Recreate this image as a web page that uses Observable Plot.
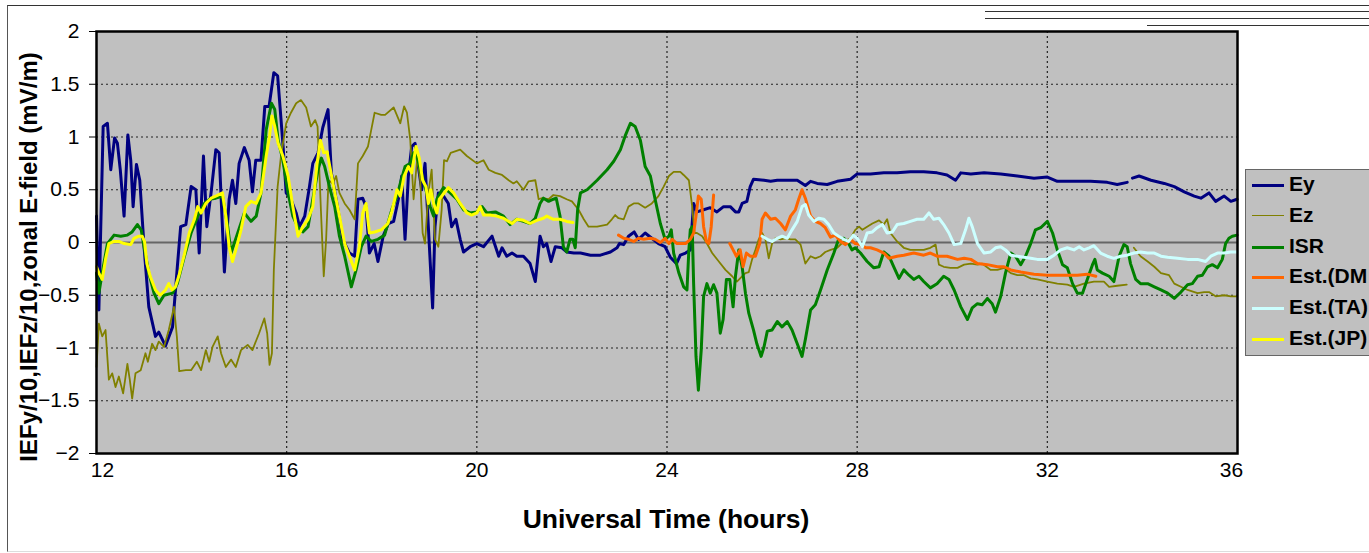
<!DOCTYPE html>
<html><head><meta charset="utf-8">
<script src="https://cdn.jsdelivr.net/npm/d3@7"></script>
<script src="https://cdn.jsdelivr.net/npm/@observablehq/plot@0.6"></script>
<style>
html,body{margin:0;padding:0;background:#fff}
body{width:1369px;height:553px;overflow:hidden;position:relative;font-family:"Liberation Sans",Arial,sans-serif}
#frame{position:absolute;left:7px;top:5px;width:1400px;height:545px;border-left:1px solid #555;border-top:1.5px solid #333;border-bottom:1px solid #ddd}
.art{position:absolute;height:0;border-top:1.5px solid #333;right:0}
#chart{position:absolute;left:0;top:0}
#chart svg text{font-size:21px !important;font-family:"Liberation Sans",Arial,sans-serif !important;fill:#000}
#ylab{position:absolute;left:29px;top:257px;transform:translate(-50%,-50%) rotate(-90deg);white-space:nowrap;font-weight:bold;font-size:24px;color:#000}
#xlab{position:absolute;left:666px;top:519px;transform:translate(-50%,-50%);white-space:nowrap;font-weight:bold;font-size:26.5px;color:#000}
#legend{position:absolute;left:1245px;top:169px;width:160px;height:187px;background:#c0c0c0;border:1.5px solid #666;box-sizing:border-box}
.item{position:absolute;left:0;height:30px;width:160px}
.sw{position:absolute;left:6px;width:32px;top:14px}
.lt{position:absolute;left:43px;top:2px;font-weight:bold;font-size:21px;white-space:nowrap;color:#000}
</style></head>
<body>
<div id="frame"></div>
<div class="art" style="left:985px;top:11px"></div>
<div class="art" style="left:985px;top:18px"></div>
<div class="art" style="left:1147px;top:25px"></div>
<div id="chart"></div>
<div id="ylab">IEFy/10,IEFz/10,zonal E-field (mV/m)</div>
<div id="xlab">Universal Time (hours)</div>
<div id="legend"></div>
<script>
// Tick values
const xTicks = [12, 16, 20, 24, 28, 32, 36];
const yTicks = [-2, -1.5, -1, -0.5, 0, 0.5, 1, 1.5, 2];

// Series: [hour, value]
const ey = [[12.0,0.25],[12.05,-0.64],[12.08,-0.04],[12.14,1.10],[12.23,1.13],[12.3,0.69],[12.38,0.99],[12.44,0.94],[12.5,0.69],[12.58,0.25],[12.66,1.02],[12.72,0.78],[12.77,0.34],[12.84,0.74],[12.91,0.59],[13.0,-0.04],[13.1,-0.61],[13.24,-0.89],[13.31,-0.85],[13.45,-0.98],[13.6,-0.8],[13.7,-0.23],[13.77,0.15],[13.88,0.17],[13.99,0.53],[14.09,0.5],[14.16,-0.1],[14.25,0.82],[14.32,0.15],[14.41,0.47],[14.51,0.88],[14.58,0.85],[14.69,-0.28],[14.79,0.41],[14.86,0.59],[14.93,0.37],[15.0,0.75],[15.11,0.9],[15.21,0.78],[15.28,0.48],[15.35,0.78],[15.46,0.78],[15.54,1.29],[15.63,1.29],[15.73,1.61],[15.81,1.58],[15.92,0.94],[15.99,0.47],[16.09,0.41],[16.2,0.28],[16.27,0.15],[16.38,0.25],[16.48,0.53],[16.55,0.75],[16.66,0.85],[16.76,1.09],[16.87,1.26],[16.94,0.66],[17.08,0.31],[17.18,0.03],[17.32,-0.1],[17.43,-0.13],[17.5,0.41],[17.6,0.42],[17.67,0.34],[17.74,-0.1],[17.84,-0.01],[17.92,-0.18],[18.03,0.06],[18.14,0.18],[18.25,0.2],[18.35,0.41],[18.42,0.63],[18.49,0.03],[18.56,0.63],[18.63,0.91],[18.7,0.94],[18.77,0.72],[18.84,0.5],[18.91,0.75],[18.98,0.15],[19.07,-0.62],[19.12,0.15],[19.19,0.47],[19.3,0.44],[19.4,0.37],[19.47,0.15],[19.56,0.22],[19.65,0.03],[19.72,-0.09],[19.86,-0.04],[20.0,-0.01],[20.14,-0.04],[20.32,0.06],[20.46,-0.13],[20.53,-0.05],[20.63,-0.13],[20.74,-0.1],[20.84,-0.13],[20.98,-0.13],[21.12,-0.2],[21.23,-0.37],[21.33,0.06],[21.4,-0.04],[21.47,-0.01],[21.56,-0.18],[21.65,-0.04],[21.79,-0.05],[21.89,-0.09],[22.04,-0.1],[22.18,-0.1],[22.39,-0.12],[22.6,-0.12],[22.81,-0.09],[22.95,-0.05],[23.0,-0.01],[23.09,-0.02],[23.19,0.06],[23.31,0.1],[23.4,0.03],[23.54,0.09],[23.68,0.04],[23.82,-0.01],[23.96,-0.04],[24.07,-0.14],[24.2,-0.2],[24.28,-0.12],[24.39,-0.1],[24.49,-0.07],[24.56,0.37],[24.63,0.29],[24.77,0.31],[24.91,0.33],[25.05,0.29],[25.19,0.34],[25.33,0.34],[25.44,0.29],[25.51,0.29],[25.58,0.37],[25.68,0.39],[25.75,0.53],[25.82,0.6],[26.04,0.59],[26.18,0.58],[26.32,0.59],[26.53,0.59],[26.74,0.59],[26.91,0.54],[27.02,0.58],[27.16,0.56],[27.37,0.55],[27.58,0.58],[27.86,0.6],[28.0,0.65],[28.28,0.65],[28.56,0.66],[28.84,0.66],[29.12,0.67],[29.4,0.67],[29.68,0.66],[29.89,0.64],[30.07,0.59],[30.18,0.66],[30.39,0.65],[30.67,0.66],[31.02,0.65],[31.37,0.63],[31.72,0.61],[32.0,0.62],[32.21,0.58],[32.56,0.58],[32.91,0.58],[33.26,0.57],[33.47,0.55],[33.68,0.57],[33.73,null],[33.79,0.61],[33.93,0.63],[34.18,0.59],[34.46,0.56],[34.67,0.53],[34.88,0.48],[35.09,0.44],[35.23,0.42],[35.4,0.47],[35.54,0.39],[35.72,0.44],[35.86,0.39],[35.99,0.41]];

const ez = [[12.0,-1.18],[12.05,-0.77],[12.12,-0.89],[12.19,-0.83],[12.26,-1.3],[12.33,-1.24],[12.4,-1.37],[12.47,-1.27],[12.56,-1.43],[12.65,-1.15],[12.7,-1.3],[12.75,-1.48],[12.82,-1.24],[12.93,-1.21],[13.03,-1.05],[13.08,-1.13],[13.17,-0.96],[13.24,-1.02],[13.31,-0.94],[13.42,-0.99],[13.52,-0.83],[13.63,-0.61],[13.69,-0.89],[13.74,-1.22],[13.88,-1.21],[13.99,-1.21],[14.11,-1.13],[14.2,-1.21],[14.3,-1.02],[14.37,-1.13],[14.44,-0.99],[14.55,-0.89],[14.62,-1.05],[14.72,-1.18],[14.83,-1.11],[14.93,-1.18],[15.04,-1.02],[15.18,-0.97],[15.28,-1.02],[15.42,-0.86],[15.53,-0.72],[15.59,-0.86],[15.64,-1.16],[15.69,-1.05],[15.73,-0.26],[15.81,0.53],[15.88,0.82],[15.99,1.13],[16.09,1.23],[16.2,1.32],[16.3,1.35],[16.41,1.28],[16.51,1.1],[16.6,1.16],[16.65,1.1],[16.72,0.31],[16.78,-0.32],[16.83,0.03],[16.88,0.59],[16.97,0.56],[17.04,0.63],[17.11,0.47],[17.22,0.37],[17.32,0.31],[17.43,0.22],[17.5,0.75],[17.6,0.82],[17.71,0.91],[17.78,1.07],[17.85,1.23],[17.99,1.21],[18.07,1.21],[18.25,1.28],[18.39,1.13],[18.47,1.29],[18.53,1.23],[18.6,0.97],[18.67,0.41],[18.75,0.82],[18.81,0.59],[18.86,0.09],[18.91,-0.01],[18.98,0.47],[19.05,0.69],[19.12,0.03],[19.19,-0.04],[19.26,0.31],[19.31,0.78],[19.37,0.77],[19.45,0.85],[19.65,0.88],[19.79,0.82],[20.0,0.75],[20.14,0.78],[20.25,0.69],[20.39,0.66],[20.53,0.64],[20.67,0.59],[20.77,0.56],[20.84,0.58],[20.98,0.5],[21.09,0.58],[21.23,0.59],[21.3,0.41],[21.37,0.42],[21.51,0.41],[21.61,0.45],[21.75,0.44],[21.89,0.41],[22.0,0.39],[22.14,0.31],[22.25,0.22],[22.35,0.15],[22.53,0.15],[22.74,0.17],[22.84,0.22],[22.91,0.26],[22.98,0.23],[23.09,0.22],[23.19,0.34],[23.3,0.37],[23.4,0.37],[23.54,0.33],[23.68,0.37],[23.82,0.44],[23.93,0.53],[24.04,0.63],[24.14,0.67],[24.28,0.67],[24.35,0.64],[24.46,0.59],[24.53,0.34],[24.58,0.09],[24.63,0.09],[24.74,0.06],[24.84,-0.01],[24.95,-0.1],[25.09,-0.18],[25.23,-0.26],[25.37,-0.32],[25.47,-0.37],[25.58,-0.32],[25.65,-0.29],[25.72,-0.28],[25.79,-0.16],[25.86,-0.07],[25.93,0.03],[26.0,0.09],[26.07,0.03],[26.14,-0.15],[26.21,-0.01],[26.28,0.04],[26.39,0.03],[26.49,0.04],[26.6,0.03],[26.7,0.03],[26.81,-0.02],[26.91,-0.2],[27.02,-0.13],[27.12,-0.15],[27.23,-0.13],[27.33,-0.09],[27.44,-0.07],[27.58,-0.05],[27.72,0.01],[27.86,0.04],[27.96,0.12],[28.04,0.15],[28.11,0.12],[28.21,0.15],[28.32,0.18],[28.46,0.21],[28.56,0.17],[28.63,0.22],[28.7,0.09],[28.84,0.01],[28.98,-0.05],[29.12,-0.07],[29.26,-0.07],[29.4,-0.07],[29.54,-0.05],[29.65,-0.02],[29.72,-0.21],[29.82,-0.23],[29.96,-0.24],[30.11,-0.24],[30.25,-0.21],[30.39,-0.2],[30.53,-0.21],[30.63,-0.2],[30.81,-0.26],[30.95,-0.26],[31.09,-0.24],[31.23,-0.29],[31.37,-0.31],[31.51,-0.31],[31.65,-0.34],[31.79,-0.35],[32.0,-0.37],[32.21,-0.39],[32.42,-0.4],[32.56,-0.42],[32.77,-0.39],[32.98,-0.37],[33.19,-0.37],[33.3,-0.42],[33.47,-0.41],[33.67,-0.4],[33.75,null],[33.82,-0.05],[33.96,-0.13],[34.11,-0.18],[34.25,-0.23],[34.39,-0.29],[34.56,-0.31],[34.67,-0.39],[34.81,-0.42],[34.95,-0.45],[35.16,-0.48],[35.3,-0.47],[35.4,-0.47],[35.54,-0.51],[35.72,-0.5],[35.86,-0.51],[35.99,-0.51]];

const isr = [[12.0,-0.29],[12.05,-0.48],[12.12,-0.29],[12.23,-0.01],[12.37,0.07],[12.51,0.06],[12.65,0.07],[12.75,0.1],[12.86,0.17],[12.94,0.12],[13.0,-0.04],[13.1,-0.29],[13.21,-0.48],[13.31,-0.58],[13.42,-0.5],[13.6,-0.48],[13.7,-0.39],[13.85,-0.13],[13.99,0.09],[14.13,0.25],[14.27,0.37],[14.38,0.41],[14.51,0.42],[14.65,0.44],[14.76,0.15],[14.83,-0.1],[14.97,0.09],[15.11,0.28],[15.25,0.2],[15.36,0.25],[15.46,0.47],[15.57,1.07],[15.68,1.32],[15.75,1.26],[15.82,0.97],[15.92,0.78],[16.03,0.47],[16.13,0.25],[16.24,0.14],[16.34,0.1],[16.45,0.15],[16.55,0.41],[16.66,0.69],[16.73,0.8],[16.8,0.72],[16.9,0.53],[17.01,0.34],[17.11,0.06],[17.22,-0.13],[17.36,-0.42],[17.46,-0.26],[17.57,-0.04],[17.67,0.06],[17.78,0.01],[17.92,0.03],[18.06,0.07],[18.11,0.15],[18.21,0.31],[18.32,0.44],[18.39,0.56],[18.49,0.72],[18.6,0.75],[18.67,0.85],[18.74,0.82],[18.81,0.69],[18.91,0.53],[19.02,0.34],[19.09,0.25],[19.16,0.41],[19.23,0.47],[19.3,0.52],[19.44,0.47],[19.58,0.41],[19.72,0.31],[19.86,0.28],[20.0,0.29],[20.11,0.34],[20.21,0.28],[20.39,0.29],[20.56,0.25],[20.7,0.17],[20.84,0.22],[20.98,0.2],[21.12,0.18],[21.23,0.23],[21.33,0.37],[21.4,0.42],[21.51,0.39],[21.61,0.41],[21.67,0.42],[21.75,0.25],[21.82,-0.04],[21.89,-0.09],[21.96,0.03],[22.02,0.03],[22.07,-0.05],[22.12,0.31],[22.18,0.47],[22.32,0.5],[22.53,0.59],[22.74,0.69],[22.88,0.77],[23.02,0.88],[23.12,1.01],[23.23,1.13],[23.33,1.1],[23.44,0.97],[23.54,0.72],[23.65,0.63],[23.75,0.41],[23.86,0.18],[23.96,0.03],[24.04,0.06],[24.09,0.12],[24.14,-0.1],[24.25,-0.29],[24.35,-0.42],[24.42,-0.45],[24.46,-0.07],[24.49,0.12],[24.53,0.15],[24.56,-0.39],[24.61,-1.08],[24.66,-1.4],[24.72,-1.02],[24.77,-0.51],[24.84,-0.39],[24.91,-0.48],[24.98,-0.4],[25.05,-0.48],[25.12,-0.86],[25.18,-0.73],[25.25,-0.35],[25.32,-0.35],[25.39,-0.61],[25.44,-0.32],[25.51,-0.07],[25.58,-0.23],[25.65,-0.48],[25.72,-0.67],[25.82,-0.83],[25.89,-0.96],[25.98,-1.08],[26.04,-0.99],[26.11,-0.84],[26.21,-0.83],[26.32,-0.75],[26.42,-0.8],[26.53,-0.75],[26.63,-0.83],[26.74,-0.96],[26.84,-1.08],[26.91,-0.92],[27.02,-0.64],[27.12,-0.59],[27.23,-0.45],[27.37,-0.26],[27.51,-0.1],[27.61,0.03],[27.72,0.04],[27.82,-0.01],[27.89,-0.07],[27.96,-0.05],[28.07,-0.1],[28.21,-0.18],[28.35,-0.24],[28.46,-0.23],[28.56,-0.09],[28.67,-0.13],[28.77,-0.23],[28.88,-0.34],[28.98,-0.26],[29.09,-0.31],[29.19,-0.35],[29.3,-0.32],[29.4,-0.37],[29.54,-0.43],[29.68,-0.39],[29.82,-0.32],[29.93,-0.35],[30.04,-0.45],[30.18,-0.61],[30.32,-0.73],[30.42,-0.62],[30.53,-0.58],[30.63,-0.59],[30.74,-0.53],[30.84,-0.58],[30.91,-0.66],[31.02,-0.51],[31.12,-0.29],[31.23,-0.1],[31.33,-0.13],[31.44,-0.21],[31.54,-0.13],[31.65,-0.01],[31.75,0.12],[31.86,0.14],[32.0,0.2],[32.11,0.09],[32.21,-0.07],[32.32,-0.21],[32.42,-0.24],[32.53,-0.39],[32.63,-0.48],[32.74,-0.48],[32.84,-0.35],[32.95,-0.21],[33.0,-0.16],[33.05,-0.26],[33.16,-0.29],[33.3,-0.32],[33.4,-0.37],[33.51,-0.13],[33.61,-0.02],[33.68,-0.04],[33.75,-0.2],[33.86,-0.35],[33.96,-0.39],[34.11,-0.39],[34.25,-0.42],[34.39,-0.45],[34.53,-0.48],[34.67,-0.53],[34.81,-0.47],[34.95,-0.4],[35.05,-0.39],[35.16,-0.32],[35.26,-0.31],[35.37,-0.23],[35.47,-0.21],[35.58,-0.24],[35.68,-0.16],[35.75,-0.01],[35.82,0.04],[35.89,0.06],[35.99,0.07]];

const estDM = [[22.98,0.07],[23.09,0.04],[23.19,0.03],[23.3,0.01],[23.4,0.04],[23.51,0.03],[23.65,0.04],[23.75,0.03],[23.86,0.0],[23.96,0.04],[24.04,-0.01],[24.11,0.03],[24.21,-0.01],[24.28,-0.01],[24.39,-0.01],[24.49,0.03],[24.56,0.09],[24.61,0.25],[24.66,0.44],[24.72,0.41],[24.77,0.15],[24.83,0.01],[24.88,-0.01],[24.93,0.15],[24.98,0.45],[25.1,null],[25.32,-0.01],[25.39,-0.07],[25.46,-0.13],[25.54,-0.07],[25.6,-0.23],[25.67,-0.1],[25.75,-0.13],[25.86,-0.13],[25.95,-0.01],[26.0,0.22],[26.07,0.28],[26.18,0.22],[26.28,0.23],[26.39,0.18],[26.49,0.12],[26.6,0.25],[26.7,0.31],[26.77,0.41],[26.84,0.5],[26.91,0.42],[27.02,0.25],[27.12,0.2],[27.23,0.18],[27.33,0.14],[27.44,0.05],[27.54,0.07],[27.65,0.01],[27.75,-0.02],[27.86,0.03],[27.96,-0.01],[28.07,-0.02],[28.18,-0.05],[28.28,-0.05],[28.42,-0.07],[28.56,-0.1],[28.67,-0.15],[28.84,-0.13],[28.98,-0.12],[29.19,-0.1],[29.4,-0.12],[29.54,-0.1],[29.68,-0.13],[29.89,-0.13],[30.11,-0.16],[30.25,-0.15],[30.39,-0.16],[30.53,-0.2],[30.74,-0.21],[30.95,-0.23],[31.09,-0.23],[31.23,-0.26],[31.44,-0.28],[31.72,-0.3],[32.0,-0.31],[32.28,-0.31],[32.63,-0.31],[32.84,-0.3],[33.02,-0.32]];

const estTA = [[26.0,0.06],[26.11,0.03],[26.21,0.01],[26.32,0.04],[26.42,0.06],[26.53,0.04],[26.63,0.12],[26.74,0.2],[26.84,0.34],[26.91,0.36],[26.98,0.26],[27.09,0.2],[27.19,0.23],[27.3,0.22],[27.4,0.17],[27.51,0.09],[27.61,0.06],[27.72,0.03],[27.82,0.01],[27.92,0.07],[28.0,0.04],[28.11,-0.04],[28.21,0.09],[28.32,0.1],[28.42,0.14],[28.53,0.17],[28.63,0.09],[28.74,0.1],[28.84,0.17],[28.98,0.18],[29.12,0.2],[29.26,0.22],[29.4,0.22],[29.51,0.28],[29.61,0.22],[29.72,0.23],[29.82,0.17],[29.93,0.09],[30.04,-0.02],[30.18,-0.01],[30.28,0.12],[30.35,0.23],[30.42,0.15],[30.53,-0.01],[30.67,-0.1],[30.81,-0.09],[30.91,-0.05],[31.02,-0.04],[31.12,-0.07],[31.23,-0.12],[31.37,-0.13],[31.51,-0.14],[31.65,-0.15],[31.79,-0.16],[32.0,-0.16],[32.14,-0.12],[32.28,-0.07],[32.42,-0.05],[32.56,-0.07],[32.67,-0.04],[32.77,-0.07],[32.88,-0.05],[32.98,-0.03],[33.12,-0.1],[33.26,-0.13],[33.4,-0.15],[33.54,-0.13],[33.68,-0.12],[33.82,-0.1],[33.96,-0.09],[34.11,-0.1],[34.25,-0.1],[34.39,-0.13],[34.53,-0.14],[34.74,-0.15],[34.95,-0.16],[35.16,-0.16],[35.33,-0.18],[35.44,-0.13],[35.58,-0.1],[35.72,-0.1],[35.86,-0.09],[35.99,-0.09]];

const estJP = [[12.0,-0.23],[12.05,-0.29],[12.12,-0.35],[12.19,-0.16],[12.26,-0.01],[12.37,0.01],[12.47,0.01],[12.58,-0.01],[12.72,-0.02],[12.79,0.04],[12.89,0.06],[12.96,0.06],[13.01,0.01],[13.06,-0.2],[13.13,-0.32],[13.24,-0.45],[13.34,-0.5],[13.45,-0.45],[13.52,-0.39],[13.59,-0.45],[13.66,-0.42],[13.73,-0.32],[13.84,-0.13],[13.95,0.09],[14.06,0.22],[14.13,0.34],[14.2,0.28],[14.3,0.37],[14.41,0.42],[14.51,0.44],[14.65,0.47],[14.72,0.25],[14.79,-0.04],[14.86,-0.18],[14.93,-0.07],[15.04,0.12],[15.14,0.34],[15.25,0.39],[15.36,0.37],[15.46,0.47],[15.57,0.82],[15.64,1.01],[15.69,1.2],[15.75,1.1],[15.82,0.94],[15.92,0.82],[16.03,0.63],[16.13,0.34],[16.24,0.06],[16.34,0.15],[16.45,0.22],[16.55,0.34],[16.64,0.75],[16.71,0.97],[16.78,0.85],[16.85,0.86],[16.92,0.69],[17.0,0.5],[17.11,0.25],[17.22,-0.01],[17.32,-0.13],[17.43,-0.26],[17.53,-0.04],[17.6,0.28],[17.67,0.37],[17.74,0.09],[17.85,0.1],[17.99,0.12],[18.13,0.18],[18.21,0.29],[18.32,0.5],[18.39,0.44],[18.47,0.63],[18.56,0.72],[18.63,0.66],[18.72,0.91],[18.79,0.8],[18.86,0.59],[18.93,0.53],[18.98,0.37],[19.03,0.5],[19.09,0.37],[19.16,0.28],[19.21,0.41],[19.28,0.45],[19.4,0.52],[19.51,0.47],[19.65,0.37],[19.79,0.28],[19.89,0.26],[20.0,0.28],[20.07,0.34],[20.14,0.26],[20.28,0.26],[20.42,0.25],[20.56,0.23],[20.74,0.18],[20.84,0.22],[20.98,0.21],[21.12,0.18],[21.26,0.21],[21.4,0.23],[21.47,0.25],[21.61,0.22],[21.75,0.22],[21.89,0.2],[22.02,0.19]];

const seriesNames = ["Ey", "Ez", "ISR", "Est.(DM", "Est.(TA)", "Est.(JP)"];
const seriesColors = ["#000080", "#808000", "#008000", "#FF6600", "#CCFFFF", "#FFFF00"];
const seriesWidths = [3, 1.8, 3, 3, 3, 3];
const seriesData = [ey, ez, isr, estDM, estTA, estJP];

const lineMarks = seriesData.map((d, i) => Plot.line(d, {
  x: p => p[0], y: p => p[1], stroke: seriesColors[i], strokeWidth: seriesWidths[i],
  strokeLinejoin: "round", curve: "linear"
}));

const fmt = v => (v < 0 ? "\u2212" : "") + String(Math.abs(v));

const chart = Plot.plot({
  width: 1369, height: 553,
  marginLeft: 96, marginRight: 132, marginTop: 31, marginBottom: 100,
  x: {domain: [12, 36]},
  y: {domain: [-2, 2]},
  style: {fontFamily: "'Liberation Sans', Arial, sans-serif", fontSize: "21px", background: "transparent", color: "#000", overflow: "visible"},
  marks: [
    Plot.frame({fill: "#c0c0c0", stroke: null}),
    Plot.gridY(yTicks.filter(v => v !== 0 && Math.abs(v) !== 2), {stroke: "#222", strokeOpacity: 1, strokeDasharray: "2,3", strokeWidth: 1.2}),
    Plot.gridX(xTicks.filter(v => v !== 12 && v !== 36), {stroke: "#222", strokeOpacity: 1, strokeDasharray: "2,3", strokeWidth: 1.2}),
    Plot.ruleY([0], {stroke: "#666", strokeWidth: 2}),
    ...lineMarks,
    Plot.frame({stroke: "#000", strokeWidth: 2.5}),
    Plot.axisY(yTicks, {tickSize: 7, tickPadding: 10, tickFormat: fmt, label: null}),
    Plot.axisX(xTicks.slice(1, -1), {tickSize: 0, tickPadding: 9, tickFormat: fmt, label: null}),
    Plot.axisX(xTicks.slice(0, 1), {tickSize: 0, tickPadding: 9, tickFormat: fmt, label: null, dx: 6}),
    Plot.axisX(xTicks.slice(-1), {tickSize: 0, tickPadding: 9, tickFormat: fmt, label: null, dx: -6})
  ]
});
document.getElementById("chart").appendChild(chart);

// Legend (HTML), built from the series arrays
const leg = document.getElementById("legend");
const rowTops = [0, 31, 62, 92, 123, 154];
seriesNames.forEach((name, i) => {
  const it = document.createElement("div");
  it.className = "item";
  it.style.top = rowTops[i] + "px";
  const sw = document.createElement("div");
  sw.className = "sw";
  sw.style.borderTop = seriesWidths[i] + "px solid " + seriesColors[i];
  const lt = document.createElement("div");
  lt.className = "lt";
  lt.textContent = name;
  it.appendChild(sw); it.appendChild(lt);
  leg.appendChild(it);
});
</script>
</body></html>
